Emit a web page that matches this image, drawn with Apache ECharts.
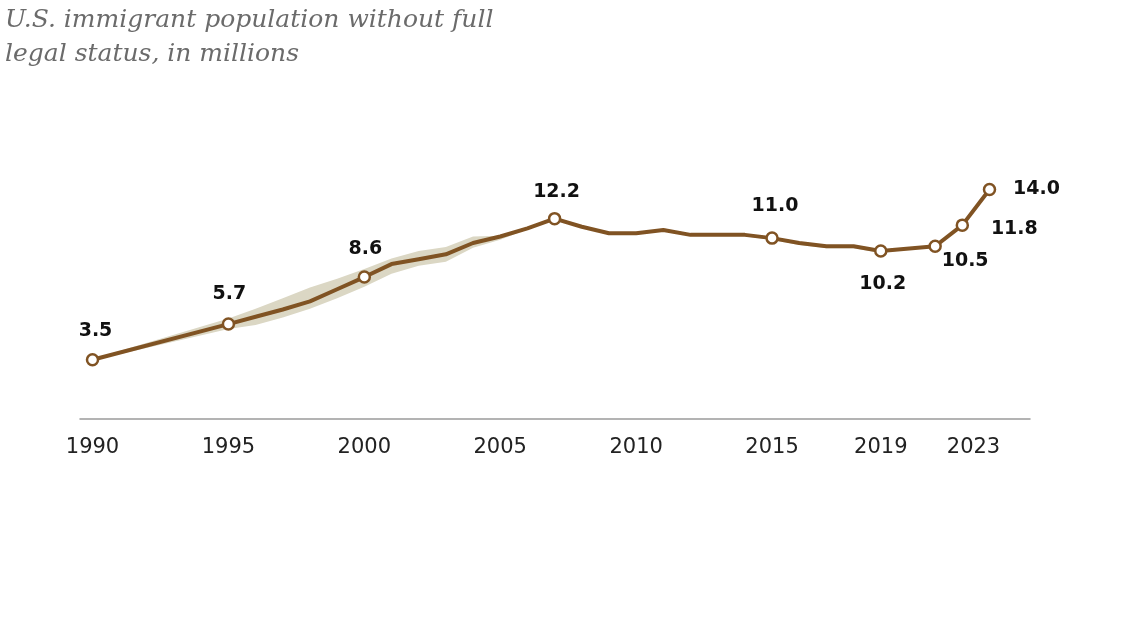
<!DOCTYPE html>
<html>
<head>
<meta charset="utf-8">
<script src="https://cdn.jsdelivr.net/npm/echarts@6/dist/echarts.min.js"></script>
<style>
  html, body { margin: 0; padding: 0; background: #fff; }
  #chart { width: 1128px; height: 636px; }
</style>
</head>
<body>
<div id="chart"></div>
<script>
// ---- data ----
var years  = [1990,1995,1996,1997,1998,1999,2000,2001,2002,2003,2004,2005,2006,2007,2008,2009,2010,2011,2012,2013,2014,2015,2016,2017,2018,2019,2021,2022,2023];
var values = [3.5, 5.7, 6.15,6.6, 7.1, 7.85,8.6, 9.4, 9.7, 10.0,10.7,11.1,11.6,12.2,11.7,11.3,11.3,11.5,11.2,11.2,11.2,11.0,10.7,10.5,10.5,10.2,10.5,11.8,14.0];
var bandLow  = [3.45,5.4, 5.65,6.1, 6.65,7.3, 8.0, 8.8, 9.3, 9.55,10.4,10.9,11.55,12.2,11.7,11.3,11.3,11.5,11.2,11.2,11.12,10.88,10.58,10.38,10.38,10.08,10.5,11.8,14.0];
var bandHigh = [3.55,6.05,6.65,7.3, 7.95,8.5, 9.1, 9.75,10.2,10.45,11.1,11.15,11.6,12.2,11.7,11.3,11.3,11.5,11.2,11.2,11.2,11.0,10.7,10.5,10.5,10.2,10.5,11.8,14.0];
// labelled points: year -> label offset
var labeledYears = [1990,1995,2000,2007,2015,2019,2021,2022,2023];
var labelOffsets = [[3,-29],[1,-30],[1,-28],[2,-27],[3,-32],[2,33],[30,15],[52,4],[47,0]];
var tickYears = [1990,1995,2000,2005,2010,2015,2019,2023];
var titleLines = ['U.S. immigrant population without full', 'legal status, in millions'];

var BROWN = '#805323';
var BAND = '#dbd7c4';

var lineData = years.map(function (y, i) {
  var li = labeledYears.indexOf(y);
  if (li < 0) {
    return { value: [y, values[i]], symbol: 'none' };
  }
  return {
    value: [y, values[i]],
    symbol: 'circle',
    label: {
      show: true,
      position: 'inside',
      offset: labelOffsets[li],
      formatter: values[i].toFixed(1)
    }
  };
});

var chart = echarts.init(document.getElementById('chart'), null, { renderer: 'canvas' });
chart.setOption({
  animation: false,
  backgroundColor: '#fff',
  title: {
    text: titleLines.join('\n'),
    left: 0,
    top: -2,
    textStyle: {
      fontFamily: 'DejaVu Serif',
      fontStyle: 'italic',
      fontWeight: 'normal',
      fontSize: 25,
      lineHeight: 34,
      color: '#6b6b6b'
    }
  },
  grid: { left: 80, right: 98, top: 157, bottom: 217, containLabel: false, outerBoundsMode: 'none' },
  xAxis: {
    type: 'value',
    min: 1989.54,
    max: 2024.49,
    splitLine: { show: false },
    axisTick: { show: false },
    axisLine: { show: true, onZero: false, lineStyle: { color: '#9a9a9a', width: 1.5 } },
    axisLabel: {
      customValues: tickYears,
      margin: 18,
      fontFamily: 'DejaVu Sans',
      fontSize: 21,
      color: '#222',
      formatter: function (v) {
        return v === 2023 ? '{s|' + v + '}' : '{n|' + v + '}';
      },
      rich: {
        n: { fontFamily: 'DejaVu Sans', fontSize: 21, color: '#222' },
        s: { fontFamily: 'DejaVu Sans', fontSize: 21, color: '#222', padding: [0, 32, 0, 0] }
      }
    }
  },
  yAxis: {
    type: 'value',
    min: -0.15,
    max: 16,
    show: false
  },
  series: [
    {
      type: 'custom',
      name: 'band',
      silent: true,
      data: [[years[0], values[0]]],
      encode: { x: 0, y: 1 },
      z: 1,
      renderItem: function (params, api) {
        if (params.dataIndex !== 0) return null;
        var pts = [];
        for (var i = 0; i < years.length; i++) pts.push(api.coord([years[i], bandHigh[i]]));
        for (var j = years.length - 1; j >= 0; j--) pts.push(api.coord([years[j], bandLow[j]]));
        return {
          type: 'polygon',
          shape: { points: pts },
          style: { fill: BAND, stroke: null }
        };
      }
    },
    {
      type: 'line',
      name: 'value',
      data: lineData,
      symbolSize: 11,
      showAllSymbol: true,
      lineStyle: { color: BROWN, width: 4 },
      itemStyle: { color: '#fff', borderColor: BROWN, borderWidth: 2.5 },
      label: {
        fontFamily: 'DejaVu Sans',
        fontWeight: 'bold',
        fontSize: 19,
        color: '#111'
      },
      z: 3
    }
  ]
});
</script>
</body>
</html>
